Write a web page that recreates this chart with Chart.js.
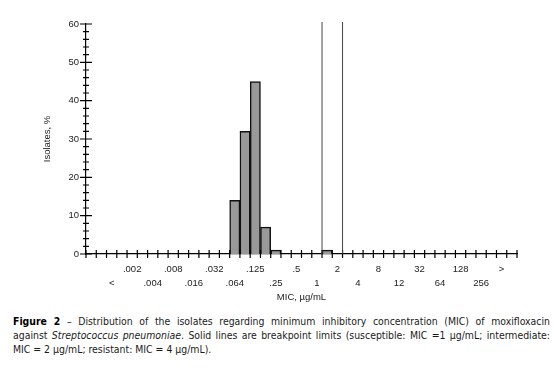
<!DOCTYPE html>
<html>
<head>
<meta charset="utf-8">
<script src="https://cdn.jsdelivr.net/npm/chart.js@4"></script>
<style>
    body { margin: 0; background: #fff; width: 557px; height: 372px; overflow: hidden; }
    #wrap { position: relative; width: 557px; height: 305px; }
    .caption {
        margin: 9px 0 0 13px;
        width: 537px;
        font-family: "DejaVu Sans Condensed", "Liberation Sans", sans-serif;
        font-size: 10.4px;
        line-height: 14px;
        color: #1a1a1a;
    }
    .caption span.line { display: block; white-space: nowrap; text-align: justify; text-align-last: justify; }
    .caption span.last { text-align-last: left; }
    .caption b { font-weight: 900; color: #000; }
</style>
</head>
<body>
<div id="wrap"><canvas id="micChart"></canvas></div>
<div class="caption">
    <span class="line"><b>Figure 2</b> – Distribution of the isolates regarding minimum inhibitory concentration (MIC) of moxifloxacin</span>
    <span class="line">against <i>Streptococcus pneumoniae</i>. Solid lines are breakpoint limits (susceptible: MIC =1 µg/mL; intermediate:</span>
    <span class="line last">MIC = 2 µg/mL; resistant: MIC = 4 µg/mL).</span>
</div>
<script>
// one entry per dilution bin on the x axis; unlabeled bins are ''
const tickLabels = ['', '', '<', '', '.002', '', '.004', '', '.008', '', '.016', '', '.032', '', '.064', '', '.125', '',
    '.25', '', '.5', '', '1', '', '2', '', '4', '', '8', '', '12', '', '32', '', '64', '', '128', '', '256', '', '>', ''];

// % of isolates per bin (null = no isolates)
const isolatesPct = tickLabels.map(() => null);
const barBins = [14, 15, 16, 17, 18, 23];
const barValues = [14, 32, 45, 7, 1, 1];
barBins.forEach((b, i) => { isolatesPct[b] = barValues[i]; });

// breakpoint lines drawn on the right edge of these bins
const breakpointAfter = ['1', '2'];

const yMax = 60;

const axisMarks = {
    id: 'axisMarks',
    afterDraw(chart) {
        const { ctx, scales: { x, y } } = chart;
        const half = (x.getPixelForValue(1) - x.getPixelForValue(0)) / 2;
        const y0 = y.getPixelForValue(0);
        ctx.save();
        ctx.strokeStyle = '#000';
        ctx.lineWidth = 1.2;
        ctx.beginPath();
        for (let i = 0; i <= tickLabels.length; i++) {
            const px = x.getPixelForValue(i) - half;
            ctx.moveTo(px, y0 - 4);
            ctx.lineTo(px, y0 + 4);
        }
        for (let v = 0; v <= yMax; v += 2) {
            const py = y.getPixelForValue(v);
            const major = v % 10 === 0;
            ctx.moveTo(x.left - (major ? 6 : 3), py);
            ctx.lineTo(x.left + (major ? 6 : 3), py);
        }
        ctx.stroke();

        // breakpoint limits
        ctx.strokeStyle = '#444';
        ctx.lineWidth = 1;
        ctx.beginPath();
        breakpointAfter.forEach(lbl => {
            const idx = tickLabels.indexOf(lbl);
            const px = x.getPixelForValue(idx) + half;
            ctx.moveTo(px, y0);
            ctx.lineTo(px, y.getPixelForValue(yMax) - 2);
        });
        ctx.stroke();
        ctx.restore();
    }
};

const tickFont = { family: '"Liberation Sans", Arial, sans-serif', size: 9.5 };

new Chart(document.getElementById('micChart').getContext('2d'), {
    type: 'bar',
    data: {
        labels: tickLabels,
        datasets: [{
            label: 'Isolates, %',
            data: isolatesPct,
            backgroundColor: '#999999',
            borderColor: '#111111',
            borderWidth: 1.5,
            borderSkipped: 'bottom',
            barPercentage: 1,
            categoryPercentage: 1
        }]
    },
    options: {
        responsive: true,
        maintainAspectRatio: false,
        animation: false,
        layout: { padding: { top: 24, right: 40, left: 0, bottom: 0 } },
        plugins: {
            legend: { display: false },
            tooltip: { enabled: false }
        },
        scales: {
            x: {
                grid: { display: false, drawTicks: false },
                border: { display: true, color: '#000', width: 1.2 },
                afterFit: s => { s.height = 51; },
                ticks: {
                    autoSkip: false,
                    maxRotation: 0,
                    padding: 8,
                    color: '#222',
                    font: { ...tickFont, lineHeight: '14px' },
                    callback: (val, i) => {
                        const t = tickLabels[i];
                        if (!t) return '';
                        return i % 4 === 0 ? [t, ''] : ['', t];
                    }
                },
                title: {
                    display: true,
                    text: 'MIC, µg/mL',
                    color: '#222',
                    font: tickFont,
                    padding: { top: 0, bottom: 2 }
                }
            },
            y: {
                min: 0,
                max: yMax,
                grid: { display: false, drawTicks: false },
                border: { display: true, color: '#000', width: 1.2 },
                afterFit: s => { s.width = 86; },
                ticks: {
                    stepSize: 10,
                    padding: 7,
                    color: '#222',
                    font: tickFont
                },
                title: {
                    display: true,
                    text: 'Isolates, %',
                    color: '#222',
                    font: tickFont,
                    padding: { top: 42, bottom: 0 }
                }
            }
        }
    },
    plugins: [axisMarks]
});
</script>
</body>
</html>
